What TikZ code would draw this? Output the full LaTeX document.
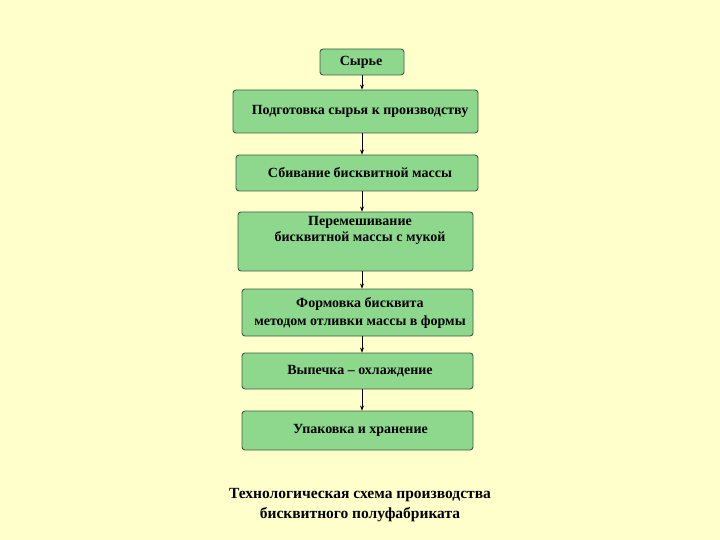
\documentclass[tikz,border=0pt]{standalone}
\usepackage{fontspec}
\setmainfont{Liberation Serif}
\usetikzlibrary{arrows.meta}
\definecolor{bg}{HTML}{FFFFCC}
\definecolor{boxfill}{HTML}{8DD88D}
\definecolor{boxline}{HTML}{3F5F45}
\tikzset{
  stepbox/.style={draw=boxline, line width=0.9pt, fill=boxfill, rounded corners=3pt, inner sep=0pt, font=\bfseries\fontsize{14}{17}\selectfont, align=center},
  flow/.style={draw=black, line width=0.7pt, -{Stealth[length=5pt,width=4pt]}}
}
\begin{document}
\begin{tikzpicture}[x=1pt,y=-1pt]
\fill[bg] (0,0) rectangle (720,540);
\useasboundingbox (0,0) rectangle (720,540);
\node[stepbox, minimum width=84pt, minimum height=26pt] (b1) at (362,62) {Сырье\hspace*{2pt}};
\node[stepbox, minimum width=245pt, minimum height=43pt] (b2) at (355.5,111.5) {\hspace*{9pt}Подготовка сырья к производству};
\node[stepbox, minimum width=242pt, minimum height=36pt] (b3) at (357,173) {\hspace*{6pt}Сбивание бисквитной массы};
\node[stepbox, minimum width=235pt, minimum height=59pt] (b4) at (355.5,241.5) {};
\node[font=\bfseries\fontsize{14}{16}\selectfont, align=center, anchor=north, inner sep=0pt] (t4) at (360,216) {Перемешивание\\бисквитной массы с мукой};
\node[stepbox, minimum width=231pt, minimum height=47pt, font=\bfseries\fontsize{14}{18}\selectfont] (b5) at (357.5,312.5) {\hspace*{5pt}Формовка бисквита\\\hspace*{5pt}методом отливки массы в формы};
\node[stepbox, minimum width=231pt, minimum height=36pt] (b6) at (357.5,371) {\hspace*{5pt}Выпечка – охлаждение};
\node[stepbox, minimum width=231pt, minimum height=39pt] (b7) at (357.5,430.5) {\hspace*{6pt}Упаковка и хранение};
\node[font=\bfseries\fontsize{15.5}{20}\selectfont, align=center, inner sep=0pt] (title) at (360,505) {Технологическая схема производства\\бисквитного полуфабриката};
\draw[flow] (b1.south) -- (b1.south |- b2.north);
\draw[flow] (b2.south -| b1) -- (b3.north -| b1);
\draw[flow] (b3.south -| b1) -- (b4.north -| b1);
\draw[flow] (b4.south -| b1) -- (b5.north -| b1);
\draw[flow] (b5.south -| b1) -- (b6.north -| b1);
\draw[flow] (b6.south -| b1) -- (b7.north -| b1);
\end{tikzpicture}
\end{document}
